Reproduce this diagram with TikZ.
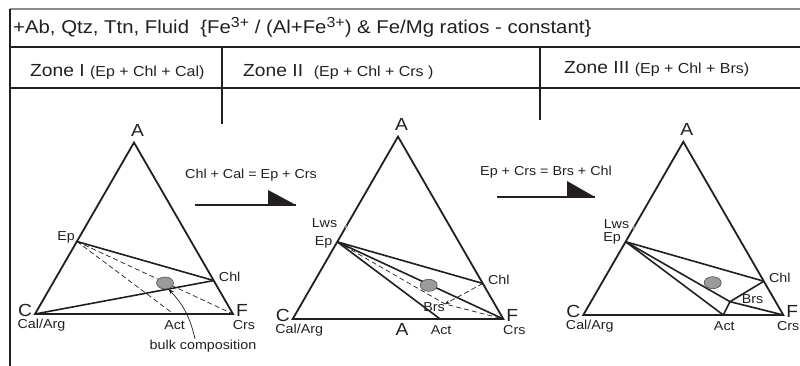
\documentclass[tikz,border=0pt]{standalone}
\usepackage{fontspec}
\setmainfont{Liberation Sans}[FakeStretch=1.1]
\usetikzlibrary{arrows.meta, positioning, calc, shapes.geometric}
\definecolor{ink}{RGB}{35,31,32}
\definecolor{rulegray}{RGB}{140,140,140}
\definecolor{bulkgray}{RGB}{155,155,155}
\newcommand{\hdsize}{\fontsize{17.5}{20}\selectfont}
\newcommand{\ttlsize}{\fontsize{18.5}{20}\selectfont}
\newcommand{\znsize}{\fontsize{14.5}{16}\selectfont}
\newcommand{\lbsize}{\fontsize{13}{15}\selectfont}
\newcommand{\chg}[1]{\raisebox{0.33em}{\fontsize{14.5}{15}\selectfont #1}}
\tikzset{
  side/.style={ink, line width=1.8pt},
  tie/.style={ink, line width=1.6pt},
  tiedash/.style={ink, line width=0.7pt, dash pattern=on 5pt off 3pt},
  frame/.style={ink, line width=1.1pt},
  corner/.style={ink, inner sep=0pt, font=\hdsize},
  phase/.style={ink, inner sep=0pt, font=\lbsize},
  bulk/.style={ellipse, draw=ink!80, line width=0.6pt, fill=bulkgray,
    minimum width=17pt, minimum height=12pt, inner sep=0pt},
}

\begin{document}
\begin{tikzpicture}[x=1pt, y=-1pt]
  \useasboundingbox (0,0) rectangle (800,366);
  \draw[rulegray, line width=1.2pt] (10,9) -- (800,9);
  \draw[frame] (10,9) -- (10,366);
  \draw[frame] (10,47) -- (800,47);
  \draw[frame] (10,88) -- (800,88);
  \draw[frame] (222,47) -- (222,124);
  \draw[frame] (540,47) -- (540,120);

  \node[ink, inner sep=0pt, font=\ttlsize, anchor=base west] (head) at (13,34)
    {+Ab, Qtz, Ttn, Fluid\ \ \{Fe\chg{3+} / (Al+Fe\chg{3+}) \& Fe/Mg ratios - constant\}};
  \node[corner, anchor=base west] (zone1) at (30,77) {Zone I {\znsize (Ep + Chl + Cal)}};
  \node[corner, anchor=base west] (zone2) at (243,77) {Zone II\ \ {\znsize (Ep + Chl + Crs )}};
  \node[corner, anchor=base west] (zone3) at (564,74) {Zone III {\znsize (Ep + Chl + Brs)}};

  \foreach \k/\x/\y/\s in {1/35/314/198, 2/292.7/319/210.6, 3/583.3/315/200} {
    \coordinate (C\k) at (\x,\y);
    \coordinate (F\k) at ($(C\k)+(\s,0)$);
    \coordinate (A\k) at ($(C\k)+({\s/2},{-0.866*\s})$);
    \coordinate (Ep\k) at ($(C\k)!0.423!(A\k)$);
    \coordinate (Chl\k) at ($(F\k)!0.195!(A\k)$);
    \coordinate (Act\k) at ($(C\k)!0.70!(F\k)$);
    \draw[side] (C\k) -- (A\k) -- (F\k) -- cycle;
    \draw[tie] (Ep\k) -- (Chl\k);
    \node[corner] (la\k) at ($(A\k)+(3.5,-12)$) {A};
    \node[corner] (lc\k) at ($(C\k)+(-10,-4)$) {C};
    \node[corner] (lf\k) at ($(F\k)+(9,-4)$) {F};
    \node[phase] (lcal\k) at ($(C\k)+(6.5,11)$) {Cal/Arg};
    \node[phase] (lact\k) at ($(Act\k)+(1,11)$) {Act};
    \node[phase] (lchl\k) at ($(Chl\k)+(16,-3.3)$) {Chl};
  }
  \node[phase] (lcrs1) at ($(F1)+(11,11)$) {Crs};
  \node[phase] (lcrs2) at ($(F2)+(11,11)$) {Crs};
  \node[phase, anchor=east] (lcrs3) at (799.5,326) {Crs};

  % Zone I
  \draw[tie] (C1) -- (Chl1);
  \draw[tiedash] (Ep1) -- (Act1);
  \draw[tiedash] (Ep1) -- (F1);
  \node[phase] (lep1) at (66,237) {Ep};
  \node[bulk] (bulk1) at (165,283) {};
  \node[phase] (bulktxt) at (203,346) {bulk composition};
  \draw[ink, line width=0.7pt, -{Stealth[length=6pt, width=4pt]}]
    ($(bulktxt.north)+(-8,-1)$) to[bend right=15] (bulk1.-60);

  \node[phase] (rx1) at (251,175) {Chl + Cal = Ep + Crs};
  \coordinate (rx1a) at (195,205);
  \coordinate (rx1b) at (296,205);
  \draw[ink, line width=1.4pt] (rx1a) -- (rx1b);
  \fill[ink] (rx1b) -- ++(-28,0) -- ++(0,-15) -- cycle;

  % Zone II
  \coordinate (Lws2) at ($(C2)!0.506!(A2)$);
  \coordinate (Brs2) at (445,304);
  \draw[tie] (Ep2) -- (F2);
  \draw[tie] (Ep2) -- (Act2);
  \draw[tiedash] (Ep2) -- (Brs2) -- (F2);
  \draw[tiedash, -{Stealth[length=5pt, width=4pt]}] (Chl2) -- (Brs2);
  \fill[rulegray] (Lws2) circle (1.8);
  \node[phase] (llws2) at (324.5,223) {Lws};
  \node[phase] (lep2) at (323.5,242.5) {Ep};
  \node[phase] (lbrs2) at (434,307) {Brs};
  \node[corner] (lmid2) at (402,329) {A};
  \node[bulk] (bulk2) at (428.7,285.3) {};

  \node[phase] (rx2) at (546,172) {Ep + Crs = Brs + Chl};
  \coordinate (rx2a) at (497,197);
  \coordinate (rx2b) at (595,197);
  \draw[ink, line width=1.4pt] (rx2a) -- (rx2b);
  \fill[ink] (rx2b) -- ++(-28,0) -- ++(0,-16) -- cycle;

  % Zone III
  \coordinate (Lws3) at ($(C3)!0.504!(A3)$);
  \coordinate (Brs3) at (730,301.7);
  \draw[tie] (Ep3) -- (Act3);
  \draw[tie] (Ep3) -- (Brs3) -- (F3);
  \draw[tie] (Chl3) -- (Brs3) -- (Act3);
  \fill[rulegray] (Lws3) circle (1.8);
  \node[phase] (llws3) at (616.5,224.5) {Lws};
  \node[phase] (lep3) at (612,238.5) {Ep};
  \node[phase] (lbrs3) at (752.5,299.5) {Brs};
  \node[bulk] (bulk3) at (712.7,282.7) {};
\end{tikzpicture}
\end{document}
